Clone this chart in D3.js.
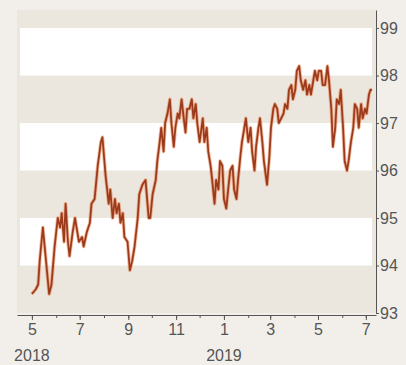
<!DOCTYPE html>
<html>
<head>
<meta charset="utf-8">
<script src="https://cdn.jsdelivr.net/npm/d3@7"></script>
<style>
  body { margin: 0; background: #f2efea; }
  text { font-family: "Liberation Sans", Arial, sans-serif; }
</style>
</head>
<body>
<script>
// days after 1 May 2018
var dayOffsets = [
  0, 5, 8, 10, 14, 18, 22, 25, 29, 33,
  36, 38, 41, 43, 46, 48, 52, 55, 57, 60,
  64, 66, 70, 74, 76, 80, 84, 88, 90, 94,
  98, 100, 103, 106, 108, 111, 113, 116, 118, 122,
  125, 128, 131, 135, 137, 141, 145, 149, 151, 154,
  158, 160, 163, 165, 168, 170, 173, 176, 178, 181,
  183, 186, 188, 191, 193, 196, 198, 201, 204, 206,
  209, 211, 214, 218, 220, 223, 225, 228, 230, 233,
  235, 238, 240, 243, 245, 248, 251, 253, 256, 258,
  261, 263, 266, 268, 271, 273, 276, 279, 281, 284,
  286, 289, 291, 294, 296, 300, 303, 305, 308, 310,
  313, 315, 318, 321, 323, 326, 328, 331, 333, 336,
  338, 341, 343, 346, 349, 351, 354, 356, 359, 361,
  364, 366, 369, 371, 374, 377, 379, 382, 384, 387,
  389, 392, 394, 397, 399, 402, 404, 407, 410, 412,
  415, 417, 420, 422, 425, 427, 430, 432, 434
];
var values = [
  93.4, 93.5, 93.6, 94.1, 94.8, 94.1, 93.4, 93.6, 94.4, 95.0,
  94.8, 95.1, 94.5, 95.3, 94.5, 94.2, 94.7, 95.0, 94.8, 94.5,
  94.6, 94.4, 94.7, 94.9, 95.3, 95.4, 96.1, 96.6, 96.7, 95.9,
  95.3, 95.6, 95.0, 95.4, 95.1, 95.3, 94.9, 95.1, 94.6, 94.5,
  93.9, 94.1, 94.4, 95.0, 95.5, 95.7, 95.8, 95.0, 95.0, 95.5,
  95.8, 96.2, 96.6, 96.9, 96.4, 97.0, 97.2, 97.5, 97.0, 96.5,
  96.9, 97.2, 97.1, 97.5, 97.2, 96.8, 97.3, 97.3, 97.5, 97.1,
  97.4, 97.0, 96.6, 97.1, 96.6, 96.9, 96.4, 96.1, 95.8, 95.3,
  95.8, 95.6, 96.2, 96.1, 95.4, 95.2, 95.7, 96.0, 96.1, 95.6,
  95.4, 95.8, 96.3, 96.6, 96.9, 97.1, 96.6, 96.9, 96.4, 96.0,
  96.5, 96.9, 97.1, 96.6, 96.2, 95.7, 96.3, 96.9, 97.3, 97.4,
  97.3, 97.0, 97.1, 97.2, 97.4, 97.3, 97.7, 97.8, 97.5, 97.7,
  98.1, 98.2, 97.9, 97.7, 97.9, 97.6, 97.8, 97.6, 97.9, 98.1,
  97.9, 98.1, 98.1, 97.8, 97.8, 98.2, 97.9, 97.3, 96.5, 96.9,
  97.5, 97.4, 97.7, 96.9, 96.2, 96.0, 96.2, 96.6, 96.9, 97.4,
  97.3, 96.9, 97.4, 97.1, 97.3, 97.2, 97.6, 97.7, 97.7
];
var yTicks = [93, 94, 95, 96, 97, 98, 99];
var bandRanges = [[94, 95], [96, 97], [98, 99]];
var monthTicks = ["2018-05-01", "2018-07-01", "2018-09-01", "2018-11-01",
                  "2019-01-01", "2019-03-01", "2019-05-01", "2019-07-01"];
var yearLabels = [["2018-05-01", "2018"], ["2019-01-01", "2019"]];

var parse = d3.timeParse("%Y-%m-%d");
var start = parse("2018-05-01");
var series = dayOffsets.map(function (d, i) {
  return { date: d3.timeDay.offset(start, d), value: values[i] };
});

var svg = d3.select("body").append("svg")
  .attr("width", 406)
  .attr("height", 365);

var x = d3.scaleTime()
  .domain([parse("2018-04-12"), parse("2019-07-14")])
  .range([17, 376]);

var y = d3.scaleLinear()
  .domain([93, 99.38])
  .range([313, 10]);

// plot background
svg.append("rect")
  .attr("x", 17).attr("y", y(99.38))
  .attr("width", 359).attr("height", y(93) - y(99.38))
  .attr("fill", "#ebe6de");

svg.selectAll("rect.band")
  .data(bandRanges)
  .enter().append("rect")
  .attr("class", "band")
  .attr("x", 20)
  .attr("y", function (d) { return y(d[1]); })
  .attr("width", 352)
  .attr("height", function (d) { return y(d[0]) - y(d[1]); })
  .attr("fill", "#ffffff");

// line
var line = d3.line()
  .x(function (d) { return x(d.date); })
  .y(function (d) { return y(d.value); });

svg.append("path")
  .datum(series)
  .attr("fill", "none")
  .attr("stroke", "#e8743a")
  .attr("stroke-opacity", 0.5)
  .attr("stroke-width", 3.5)
  .attr("stroke-linejoin", "round")
  .attr("d", line);

svg.append("path")
  .datum(series)
  .attr("fill", "none")
  .attr("stroke", "#9c3a1c")
  .attr("stroke-width", 1.8)
  .attr("stroke-linejoin", "round")
  .attr("d", line);

// right axis
var yAxis = svg.append("g")
  .attr("transform", "translate(376,0)")
  .call(d3.axisRight(y).tickValues(yTicks).tickSize(3).tickSizeOuter(0)
    .tickPadding(1).tickFormat(d3.format("d")));
yAxis.select(".domain").attr("stroke", "#555");
yAxis.selectAll(".tick line").attr("stroke", "#555");
yAxis.selectAll(".tick text")
  .attr("fill", "#555")
  .attr("font-size", 16)
  .attr("font-family", "Liberation Sans, Arial, sans-serif");

// bottom axis: minor monthly ticks, then labelled ones
var xMinor = svg.append("g")
  .attr("transform", "translate(0,315)")
  .call(d3.axisBottom(x).ticks(d3.timeMonth.every(1)).tickSize(3).tickSizeOuter(0).tickFormat(""));
xMinor.select(".domain").attr("stroke", "#555");
xMinor.selectAll(".tick line").attr("stroke", "#555");

var xAxis = svg.append("g")
  .attr("transform", "translate(0,315)")
  .call(d3.axisBottom(x)
    .tickValues(monthTicks.map(parse))
    .tickSize(5)
    .tickPadding(4)
    .tickFormat(function (d) { return d.getMonth() + 1; }));
xAxis.select(".domain").remove();
xAxis.selectAll(".tick line").attr("stroke", "#555");
xAxis.selectAll(".tick text")
  .attr("fill", "#555")
  .attr("font-size", 16)
  .attr("font-family", "Liberation Sans, Arial, sans-serif");

svg.selectAll("text.year")
  .data(yearLabels)
  .enter().append("text")
  .attr("class", "year")
  .attr("x", function (d) { return x(parse(d[0])); })
  .attr("y", 361)
  .attr("text-anchor", "middle")
  .attr("fill", "#555")
  .attr("font-size", 16)
  .text(function (d) { return d[1]; });
</script>
</body>
</html>
